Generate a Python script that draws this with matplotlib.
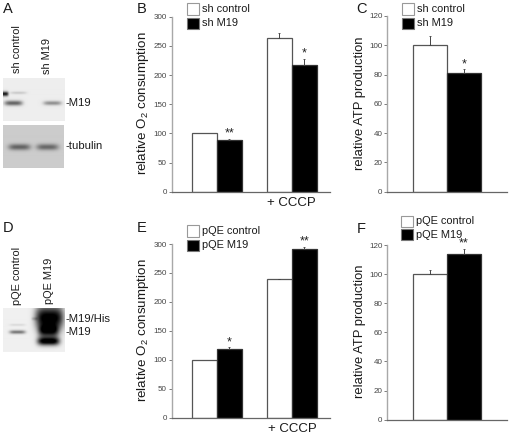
import numpy as np
import matplotlib
matplotlib.use('Agg')
import matplotlib.pyplot as plt
from matplotlib.patches import Rectangle

plt.rcParams['font.family'] = ['Liberation Sans', 'DejaVu Sans']
plt.rcParams['mathtext.default'] = 'regular'

W, H = 510, 436

# --- valores
o2_ticks = [0, 50, 100, 150, 200, 250, 300]
atp_ticks = [0, 20, 40, 60, 80, 100, 120]

b_control = [100, 263]
b_control_err = [0, 9]
b_m19 = [88, 217]
b_m19_err = [3, 11]
b_stars = ['**', '*']

c_control = [100]
c_control_err = [6]
c_m19 = [81]
c_m19_err = [2.5]
c_stars = ['*']

e_control = [100, 239]
e_control_err = [0, 1]
e_m19 = [118, 291]
e_m19_err = [4, 4]
e_stars = ['*', '**']

f_control = [100]
f_control_err = [2.5]
f_m19 = [114]
f_m19_err = [3.5]
f_stars = ['**']

fig = plt.figure(figsize=(W / 100, H / 100), dpi=100, facecolor='white')


def fig_ax(x0, y0, x1, y1):
    # caixa em pixels da imagem (y para baixo)
    return fig.add_axes([x0 / W, 1 - y1 / H, (x1 - x0) / W, (y1 - y0) / H])


def txt(x, y, s, **kw):
    kw.setdefault('va', 'center')
    kw.setdefault('ha', 'left')
    kw.setdefault('color', '#1a1a1a')
    fig.text(x / W, 1 - y / H, s, **kw)


def box(x0, y0, x1, y1, fc, ec):
    fig.add_artist(Rectangle((x0 / W, 1 - y1 / H), (x1 - x0) / W, (y1 - y0) / H,
                             transform=fig.transFigure, fc=fc, ec=ec, lw=0.8))


def blot(x0, y0, x1, y1, bg, bands):
    nx, ny = int(x1 - x0), int(y1 - y0)
    xx, yy = np.meshgrid(np.arange(nx) + x0, np.arange(ny) + y0)
    img = np.full((ny, nx), float(bg))
    for cx, cy, sx, sy, amp in bands:
        img -= amp * np.exp(-((xx - cx) / sx) ** 4 - ((yy - cy) / sy) ** 2)
    ax = fig_ax(x0, y0, x1, y1)
    ax.imshow(np.clip(img, 0, 1), cmap='gray', vmin=0, vmax=1, aspect='auto',
              interpolation='bilinear')
    ax.axis('off')


def panel(x_axis, y_top, y_bot, x_end, x_bar, unit, ymax, ticks, ylabel, ylab_x, ylab_size,
          control, control_err, m19, m19_err, stars, lefts):
    ax = fig_ax(x_axis, y_top, x_end, y_bot)
    ax.set_xlim((x_axis - x_bar) / unit, (x_end - x_bar) / unit)
    ax.set_ylim(0, ymax)
    lefts = np.array(lefts, dtype=float)
    ax.bar(lefts + 0.5, control, width=1, color='white', edgecolor='#555555', lw=0.9)
    ax.bar(lefts + 1.5, m19, width=1, color='black', edgecolor='#333333', lw=0.9)
    for i in range(len(lefts)):
        if control_err[i] > 0:
            ax.errorbar(lefts[i] + 0.5, control[i], yerr=[[0], [control_err[i]]],
                        color='#444444', lw=0.7, capsize=0.6, capthick=0.6)
        ax.errorbar(lefts[i] + 1.5, m19[i], yerr=[[0], [m19_err[i]]],
                    color='#444444', lw=0.7, capsize=0.6, capthick=0.6)
        ax.text(lefts[i] + 1.5, m19[i] + m19_err[i] - ymax * 0.006, stars[i], ha='center',
                va='bottom', fontsize=9, color='#222222')
    for s in ['top', 'right']:
        ax.spines[s].set_visible(False)
    ax.spines['left'].set_color('#a8a8a8')
    ax.spines['left'].set_linewidth(1.0)
    ax.spines['bottom'].set_color('#666666')
    ax.spines['bottom'].set_linewidth(0.9)
    ax.set_xticks([])
    ax.set_yticks(ticks)
    ax.tick_params(axis='y', length=2, width=0.6, color='#666666', pad=1.5,
                   labelsize=5.8, labelcolor='#444444')
    for t in ax.get_yticklabels():
        t.set_family(['Liberation Sans Narrow', 'Liberation Sans'])
    txt(ylab_x, (y_top + y_bot) / 2 - 1, ylabel, rotation=90, ha='center', fontsize=ylab_size)
    return ax


# --- blots
blot(3, 78, 65, 121, 0.93, [(13, 103, 9, 2.4, 0.55), (52, 103, 9, 2.0, 0.38),
                            (4, 94, 4, 2.2, 0.85), (18, 93, 8, 1.2, 0.15)])
blot(3, 125, 64, 168, 0.80, [(19, 147, 11, 3.0, 0.42), (47, 147, 11, 3.0, 0.40)])
blot(3, 308, 65, 352, 0.94, [(17, 332, 8, 1.7, 0.50), (17, 325, 8, 1.0, 0.10),
                             (49, 318, 14, 12, 1.0), (48, 331, 10, 6, 0.75),
                             (48, 341, 11, 4, 1.0), (34, 319, 3, 1.5, 0.15)])

for x, y, s in [(3, 9, 'A'), (137, 9, 'B'), (356, 9, 'C'), (3, 228, 'D'), (137, 228, 'E'), (357, 229, 'F')]:
    txt(x, y, s, fontsize=10.5)

txt(17, 49.5, 'sh control', rotation=90, ha='center', fontsize=7.9)
txt(47, 55.5, 'sh M19', rotation=90, ha='center', fontsize=7.9)
txt(66, 103, '-M19', fontsize=8.1)
txt(66, 146, '-tubulin', fontsize=8.1)
txt(17, 275.5, 'pQE control', rotation=90, ha='center', fontsize=7.9)
txt(49, 281, 'pQE M19', rotation=90, ha='center', fontsize=7.9)
txt(66, 319, '-M19/His', fontsize=8.1)
txt(66, 332, '-M19', fontsize=8.1)

# --- graficos
o2_label = 'relative O$_2$ consumption'
atp_label = 'relative ATP production'
panel(171.7, 16.7, 191.7, 330, 191.7, 25, 300, o2_ticks, o2_label, 143, 9.6,
      b_control, b_control_err, b_m19, b_m19_err, b_stars, [0, 3])
panel(387.3, 16, 191.7, 507, 412.7, 34.2, 120, atp_ticks, atp_label, 360, 9.4,
      c_control, c_control_err, c_m19, c_m19_err, c_stars, [0])
panel(171.7, 244, 417.7, 330, 191.7, 25, 300, o2_ticks, o2_label, 143, 9.6,
      e_control, e_control_err, e_m19, e_m19_err, e_stars, [0, 3])
panel(387.3, 245, 419.7, 507, 412.7, 34.2, 120, atp_ticks, atp_label, 360, 9.4,
      f_control, f_control_err, f_m19, f_m19_err, f_stars, [0])

txt(267, 203, '+ CCCP', fontsize=9.5)
txt(268, 429, '+ CCCP', fontsize=9.5)

# --- legendas
for x0, x1, xt, y1, y2, a, b in [
        (187, 199, 202.5, 3.5, 18, 'sh control', 'sh M19'),
        (402, 414, 417.5, 3.5, 18, 'sh control', 'sh M19'),
        (187, 199, 202.5, 225, 239.5, 'pQE control', 'pQE M19'),
        (401, 413, 416.5, 215.5, 229, 'pQE control', 'pQE M19')]:
    box(x0, y1, x1, y1 + 11.5, 'white', '#999999')
    box(x0, y2, x1, y2 + 11.5, 'black', '#777777')
    txt(xt, y1 + 5.5, a, fontsize=7.9)
    txt(xt, y2 + 5.5, b, fontsize=7.9)

fig.savefig('out.png', dpi=100)
